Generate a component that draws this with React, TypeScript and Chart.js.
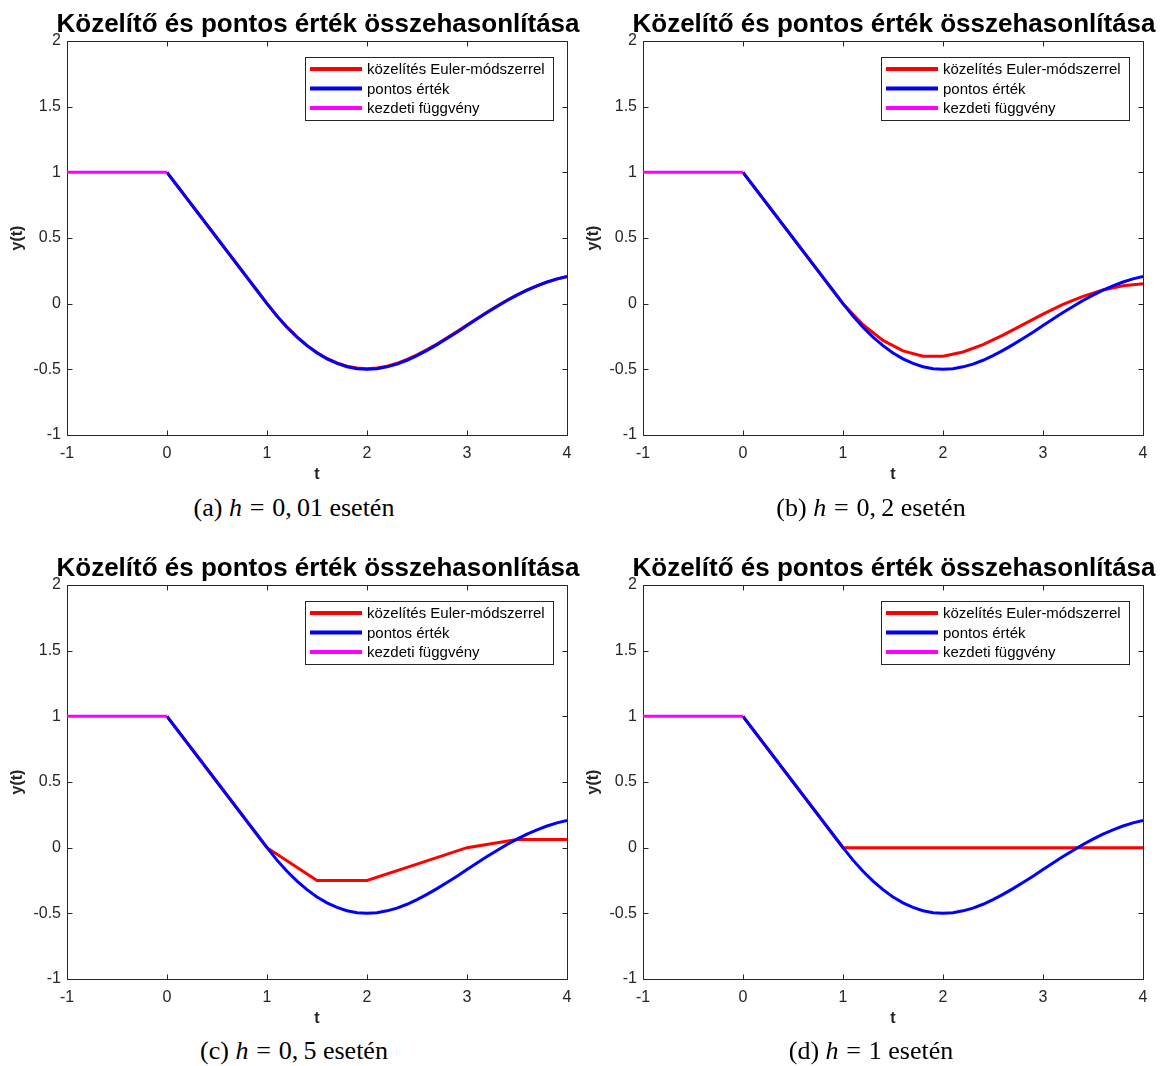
import React, { useEffect, useRef } from "react";
import { Chart, registerables } from "chart.js";

Chart.register(...registerables);

// ---------- data ----------
const TITLE = "Közelítő és pontos érték összehasonlítása";
const LEGEND_LABELS = ["közelítés Euler-módszerrel", "pontos érték", "kezdeti függvény"];
const X_LABEL = "t";
const Y_LABEL = "y(t)";
const X_MIN = -1;
const X_MAX = 4;
const Y_MIN = -1;
const Y_MAX = 2;

// initial function on [-1, 0]
const tInit = [-1, 0];
const yInit = [1, 1];

// exact solution
const tExact = [
  0, 0.1, 0.2, 0.3, 0.4, 0.5, 0.6, 0.7, 0.8, 0.9, 1,
  1.1, 1.2, 1.3, 1.4, 1.5, 1.6, 1.7, 1.8, 1.9, 2,
  2.1, 2.2, 2.3, 2.4, 2.5, 2.6, 2.7, 2.8, 2.9, 3,
  3.1, 3.2, 3.3, 3.4, 3.5, 3.6, 3.7, 3.8, 3.9, 4,
];
const yExact = [
  1, 0.9, 0.8, 0.7, 0.6, 0.5, 0.4, 0.3, 0.2, 0.1, 0,
  -0.095, -0.18, -0.255, -0.32, -0.375, -0.42, -0.455, -0.48, -0.495, -0.5,
  -0.495, -0.481, -0.46, -0.431, -0.396, -0.356, -0.312, -0.265, -0.217, -0.167,
  -0.117, -0.068, -0.021, 0.024, 0.065, 0.103, 0.136, 0.165, 0.189, 0.208,
];

// Euler, h = 0.01 (read at 0.1 spacing)
const tEulerA = [
  0, 0.1, 0.2, 0.3, 0.4, 0.5, 0.6, 0.7, 0.8, 0.9, 1,
  1.1, 1.2, 1.3, 1.4, 1.5, 1.6, 1.7, 1.8, 1.9, 2,
  2.1, 2.2, 2.3, 2.4, 2.5, 2.6, 2.7, 2.8, 2.9, 3,
  3.1, 3.2, 3.3, 3.4, 3.5, 3.6, 3.7, 3.8, 3.9, 4,
];
const yEulerA = [
  1, 0.9, 0.8, 0.7, 0.6, 0.5, 0.4, 0.3, 0.2, 0.1, 0,
  -0.094, -0.179, -0.253, -0.318, -0.372, -0.417, -0.451, -0.476, -0.49, -0.495,
  -0.49, -0.476, -0.454, -0.425, -0.39, -0.35, -0.307, -0.26, -0.212, -0.162,
  -0.113, -0.065, -0.018, 0.026, 0.067, 0.103, 0.136, 0.164, 0.187, 0.205,
];

// Euler, h = 0.2
const tEulerB = [0, 0.2, 0.4, 0.6, 0.8, 1, 1.2, 1.4, 1.6, 1.8, 2, 2.2, 2.4, 2.6, 2.8, 3, 3.2, 3.4, 3.6, 3.8, 4];
const yEulerB = [1, 0.8, 0.6, 0.4, 0.2, 0, -0.16, -0.28, -0.36, -0.4, -0.4, -0.368, -0.312, -0.24, -0.16, -0.08, -0.006, 0.056, 0.104, 0.136, 0.152];

// Euler, h = 0.5
const tEulerC = [0, 0.5, 1, 1.5, 2, 2.5, 3, 3.5, 4];
const yEulerC = [1, 0.5, 0, -0.25, -0.25, -0.125, 0, 0.0625, 0.0625];

// Euler, h = 1
const tEulerD = [0, 1, 2, 3, 4];
const yEulerD = [1, 0, 0, 0, 0];

const CAPTION_TAGS = ["(a)", "(b)", "(c)", "(d)"];
const CAPTION_H = ["0,01", "0,2", "0,5", "1"];

const COLORS = ["#ff0000", "#0000ff", "#ff00ff"];

const PANELS = [
  { t: tEulerA, y: yEulerA },
  { t: tEulerB, y: yEulerB },
  { t: tEulerC, y: yEulerC },
  { t: tEulerD, y: yEulerD },
];

// ---------- layout ----------
const CW = 600;
const CH = 490;
const AX_LEFT = 67;
const AX_TOP = 41;
const AX_RIGHT_PAD = 33;
const X_AXIS_H = 55;
const PANEL_POS = [
  { left: 0, top: 0 },
  { left: 576, top: 0 },
  { left: 0, top: 544 },
  { left: 576, top: 544 },
];
const CAPTION_POS = [
  { cx: 294, top: 494 },
  { cx: 871, top: 494 },
  { cx: 294, top: 1037 },
  { cx: 871, top: 1037 },
];

const SANS = '"Liberation Sans", Arial, Helvetica, sans-serif';
const AXIS_COLOR = "#262626";

const toPts = (xs: number[], ys: number[]) => xs.map((x, i) => ({ x, y: ys[i] }));

const matlabPlugin = {
  id: "matlabLook",
  beforeDatasetsDraw(chart: any) {
    const { ctx, chartArea: a, scales } = chart;
    ctx.save();
    ctx.strokeStyle = AXIS_COLOR;
    ctx.lineWidth = 1;
    const L = Math.round(a.left) + 0.5;
    const R = Math.round(a.right) + 0.5;
    const T = Math.round(a.top) + 0.5;
    const B = Math.round(a.bottom) + 0.5;
    ctx.beginPath();
    ctx.rect(L, T, R - L, B - T);
    ctx.stroke();
    const tl = 5;
    ctx.beginPath();
    scales.x.ticks.forEach((tk: any) => {
      const px = Math.round(scales.x.getPixelForValue(tk.value)) + 0.5;
      ctx.moveTo(px, B);
      ctx.lineTo(px, B - tl);
      ctx.moveTo(px, T);
      ctx.lineTo(px, T + tl);
    });
    scales.y.ticks.forEach((tk: any) => {
      const py = Math.round(scales.y.getPixelForValue(tk.value)) + 0.5;
      ctx.moveTo(L, py);
      ctx.lineTo(L + tl, py);
      ctx.moveTo(R, py);
      ctx.lineTo(R - tl, py);
    });
    ctx.stroke();
    ctx.restore();
  },
  afterDraw(chart: any) {
    const { ctx, chartArea: a } = chart;
    const cx = (a.left + a.right) / 2;
    const cy = (a.top + a.bottom) / 2;
    ctx.save();
    // title
    ctx.fillStyle = "#000";
    ctx.font = `bold 26px ${SANS}`;
    ctx.textAlign = "center";
    ctx.textBaseline = "alphabetic";
    ctx.fillText(TITLE, cx + 1, 32);
    // axis labels
    ctx.fillStyle = AXIS_COLOR;
    ctx.font = `bold 16px ${SANS}`;
    ctx.textBaseline = "middle";
    ctx.fillText(X_LABEL, cx, a.bottom + 40);
    ctx.save();
    ctx.translate(18, cy);
    ctx.rotate(-Math.PI / 2);
    ctx.fillText(Y_LABEL, 0, 0);
    ctx.restore();
    // legend
    const lx = a.right - 262;
    const ly = a.top + 16;
    const lw = 248;
    const lh = 63;
    ctx.fillStyle = "#fff";
    ctx.fillRect(lx, ly, lw, lh);
    ctx.strokeStyle = AXIS_COLOR;
    ctx.lineWidth = 1;
    ctx.strokeRect(Math.round(lx) + 0.5, Math.round(ly) + 0.5, lw, lh);
    ctx.font = `15px ${SANS}`;
    ctx.textAlign = "left";
    ctx.textBaseline = "middle";
    chart.data.datasets.forEach((ds: any, i: number) => {
      const yy = ly + 12 + i * 19.5;
      ctx.strokeStyle = ds.borderColor;
      ctx.lineWidth = 4;
      ctx.beginPath();
      ctx.moveTo(lx + 5, yy);
      ctx.lineTo(lx + 57, yy);
      ctx.stroke();
      ctx.fillStyle = "#000";
      ctx.fillText(ds.label, lx + 62, yy + 1);
    });
    ctx.restore();
  },
};

function Panel({ idx }: { idx: number }) {
  const ref = useRef<HTMLCanvasElement | null>(null);
  useEffect(() => {
    if (!ref.current) return;
    const p = PANELS[idx];
    const chart = new Chart(ref.current, {
      type: "line",
      data: {
        datasets: [
          {
            label: LEGEND_LABELS[0],
            data: toPts(p.t, p.y),
            borderColor: COLORS[0],
            backgroundColor: COLORS[0],
            borderWidth: 3,
            pointRadius: 0,
            fill: false,
            order: 3,
          },
          {
            label: LEGEND_LABELS[1],
            data: toPts(tExact, yExact),
            borderColor: COLORS[1],
            backgroundColor: COLORS[1],
            borderWidth: 3,
            pointRadius: 0,
            fill: false,
            order: 2,
          },
          {
            label: LEGEND_LABELS[2],
            data: toPts(tInit, yInit),
            borderColor: COLORS[2],
            backgroundColor: COLORS[2],
            borderWidth: 3,
            pointRadius: 0,
            fill: false,
            order: 1,
          },
        ],
      },
      options: {
        responsive: false,
        animation: false,
        devicePixelRatio: 1,
        layout: { padding: { left: 0, top: AX_TOP, right: AX_RIGHT_PAD, bottom: 0 } },
        plugins: {
          legend: { display: false },
          title: { display: false },
          tooltip: { enabled: false },
        },
        scales: {
          x: {
            type: "linear",
            min: X_MIN,
            max: X_MAX,
            grid: { display: false, drawTicks: false },
            border: { display: false },
            ticks: {
              stepSize: 1,
              padding: 9,
              color: AXIS_COLOR,
              font: { family: SANS, size: 16 },
              maxRotation: 0,
              callback: (v: any) => String(v),
            },
            afterFit: (s: any) => {
              s.height = X_AXIS_H;
            },
          },
          y: {
            type: "linear",
            min: Y_MIN,
            max: Y_MAX,
            grid: { display: false, drawTicks: false },
            border: { display: false },
            ticks: {
              stepSize: 0.5,
              padding: 6,
              color: AXIS_COLOR,
              font: { family: SANS, size: 16 },
              callback: (v: any) => String(v),
            },
            afterFit: (s: any) => {
              s.width = AX_LEFT;
            },
          },
        },
      } as any,
      plugins: [matlabPlugin],
    });
    return () => chart.destroy();
  }, [idx]);
  const pos = PANEL_POS[idx];
  return (
    <canvas
      ref={ref}
      width={CW}
      height={CH}
      style={{ position: "absolute", left: pos.left, top: pos.top, width: CW, height: CH }}
    />
  );
}

function Caption({ idx }: { idx: number }) {
  const pos = CAPTION_POS[idx];
  const hText = CAPTION_H[idx].replace(",", ",\u2009");
  return (
    <div
      style={{
        position: "absolute",
        left: pos.cx - 200,
        top: pos.top,
        width: 400,
        textAlign: "center",
        fontFamily: '"Liberation Serif", "Times New Roman", serif',
        fontSize: 26,
        lineHeight: "27px",
        color: "#000",
        whiteSpace: "nowrap",
      }}
    >
      {CAPTION_TAGS[idx]} <i>h</i>
      <span style={{ margin: "0 0.3em" }}>=</span>
      {hText} esetén
    </div>
  );
}

export default function App() {
  return (
    <div
      style={{
        position: "absolute",
        left: 0,
        top: 0,
        width: 1163,
        height: 1066,
        overflow: "hidden",
        background: "#fff",
      }}
    >
      {[0, 1, 2, 3].map((i) => (
        <Panel key={"p" + i} idx={i} />
      ))}
      {[0, 1, 2, 3].map((i) => (
        <Caption key={"c" + i} idx={i} />
      ))}
    </div>
  );
}
